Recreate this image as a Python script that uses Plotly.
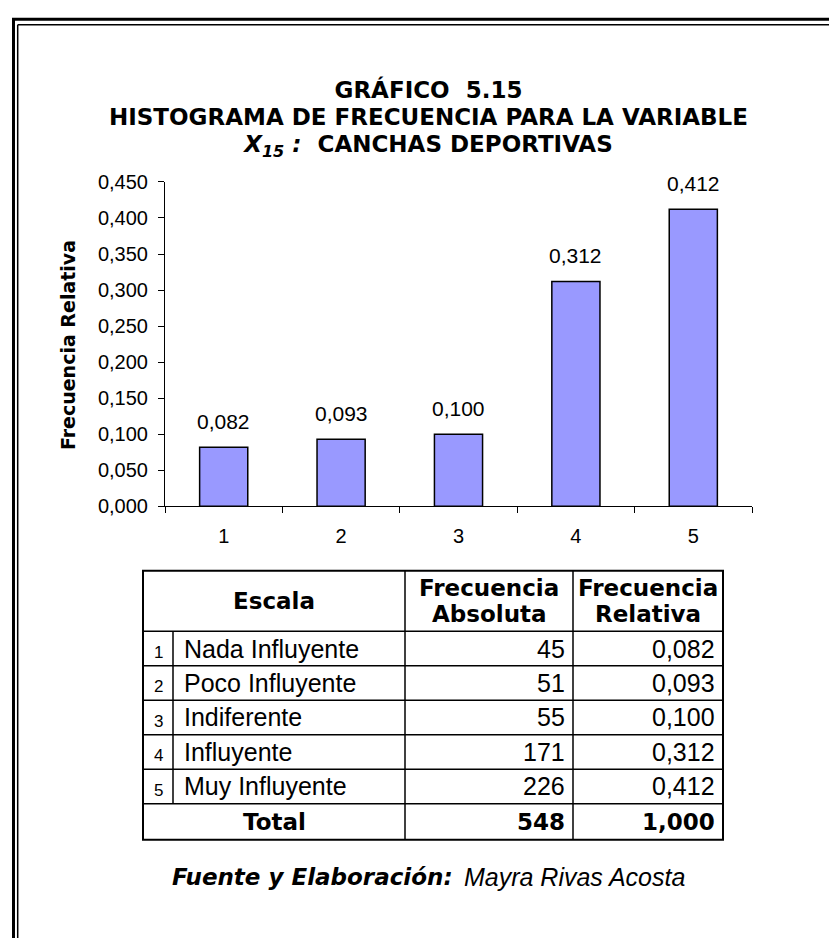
import plotly.graph_objects as go

W, H = 829, 949

# ---- data ----
categories = ["1", "2", "3", "4", "5"]
scale_labels = ["Nada Influyente", "Poco Influyente", "Indiferente", "Influyente", "Muy Influyente"]
freq_abs = [45, 51, 55, 171, 226]
freq_rel = [0.082, 0.093, 0.100, 0.312, 0.412]
total_abs = 548
total_rel = 1.000
y_ticks = [0.0, 0.05, 0.10, 0.15, 0.20, 0.25, 0.30, 0.35, 0.40, 0.45]

title_lines = [
    "GRÁFICO  5.15",
    "HISTOGRAMA DE FRECUENCIA PARA LA VARIABLE",
    "<i>X<sub>15</sub> :</i>\u00a0 CANCHAS DEPORTIVAS",
]
source_bold = "Fuente y Elaboración:"
source_name = " Mayra Rivas Acosta"


def fmt(v):
    return f"{v:.3f}".replace(".", ",")


def px(x):
    return x / W


def py(y):
    return 1 - y / H


FONT = "Liberation Sans, Arial, sans-serif"
BFONT = "DejaVu Sans, Liberation Sans, sans-serif"

fig = go.Figure()
fig.add_trace(go.Bar(
    x=categories, y=freq_rel, width=0.41,
    marker=dict(color="#9999FF", line=dict(color="black", width=1.5)),
    hoverinfo="skip",
))

# plot area geometry (pixels)
X0, X1, Y0, Y1 = 165, 752, 175, 507

fig.update_layout(
    width=W, height=H,
    margin=dict(l=0, r=0, t=0, b=0),
    paper_bgcolor="white", plot_bgcolor="white",
    separators=",.",
    showlegend=False,
    font=dict(family=FONT, color="black"),
    xaxis=dict(
        domain=[px(X0), px(X1)], type="category", range=[-0.5, 4.5],
        showline=True, linecolor="black", linewidth=1,
        ticks="outside", ticklen=6, tickcolor="black", tickwidth=1,
        tickson="boundaries", showgrid=False, zeroline=False,
        tickfont=dict(size=20, family=FONT, color="black"),
        ticklabelstandoff=12,
    ),
    yaxis=dict(
        domain=[py(Y1), py(Y0)], range=[0, 0.45],
        tickvals=y_ticks, tickformat=".3f",
        showline=True, linecolor="black", linewidth=1,
        ticks="outside", ticklen=6, tickcolor="black", tickwidth=1,
        showgrid=False, zeroline=False,
        tickfont=dict(size=20, family=FONT, color="black"),
        ticklabelstandoff=6,
    ),
)

ann = []
# data labels
for i, v in enumerate(freq_rel):
    ann.append(dict(x=i, y=v, xref="x", yref="y", text=fmt(v), showarrow=False,
                    xanchor="center", yanchor="middle", yshift=26,
                    font=dict(size=21, family=FONT, color="black")))

# y axis title
ann.append(dict(x=px(68), y=py(342), xref="paper", yref="paper", text="<b>Frecuencia Relativa</b>",
                textangle=-90, showarrow=False, xanchor="center", yanchor="middle",
                font=dict(size=19, family=BFONT, color="black")))

# title: one text block, line pitch 1.3 * 20.8 px = 27 px, glyphs drawn at 23 px
title_html = "<br>".join(f'<span style="font-size:23px"><b>{t}</b></span>' for t in title_lines)
ann.append(dict(x=px(428), y=py(110), xref="paper", yref="paper", text=title_html,
                showarrow=False, xanchor="center", yanchor="middle", align="center",
                font=dict(size=20.8, family=BFONT, color="black")))

# source line
ann.append(dict(x=px(455), y=py(887), xref="paper", yref="paper",
                text=f"<b><i>{source_bold}</i></b>", showarrow=False,
                xanchor="right", yanchor="middle",
                font=dict(size=23, family=BFONT, color="black")))
ann.append(dict(x=px(455), y=py(887), xref="paper", yref="paper",
                text=f"<i>{source_name}</i>", showarrow=False,
                xanchor="left", yanchor="middle",
                font=dict(size=25, family=FONT, color="black")))

# ---- table ----
TL, TR = 143, 723
C_NUM, C_ABS, C_REL = 173, 405, 573
T_TOP, T_HDR = 573, 635
ROW_H = 35.3
n = len(scale_labels)
row_edges = [T_HDR + ROW_H * i for i in range(n + 1)]
T_BOT = row_edges[-1] + 37

shapes = []


def line(x0, y0, x1, y1, w=1.5):
    shapes.append(dict(type="line", xref="paper", yref="paper",
                       x0=px(x0), y0=py(y0), x1=px(x1), y1=py(y1),
                       line=dict(color="black", width=w)))


# outer box
shapes.append(dict(type="rect", xref="paper", yref="paper",
                   x0=px(TL), y0=py(T_BOT), x1=px(TR), y1=py(T_TOP),
                   line=dict(color="black", width=2)))
for e in row_edges:
    line(TL, e, TR, e)
line(C_ABS, T_TOP, C_ABS, T_BOT)
line(C_REL, T_TOP, C_REL, T_BOT)
line(C_NUM, row_edges[0], C_NUM, row_edges[-1])

# frame border (double line)
line(13.5, 8.5, 13.5, H, 3)
line(12, 8.5, W, 8.5, 3)
line(17.7, 14, 17.7, H, 1.5)
line(17.7, 14, W, 14, 1.5)


def txt(x, y, t, anchor="center", size=25, family=FONT):
    ann.append(dict(x=px(x), y=py(y), xref="paper", yref="paper", text=t, showarrow=False,
                    xanchor=anchor, yanchor="middle",
                    font=dict(size=size, family=family, color="black")))


# header
BS = 23
txt((TL + C_ABS) / 2, (T_TOP + T_HDR) / 2, "<b>Escala</b>", size=BS, family=BFONT)
txt((C_ABS + C_REL) / 2, T_TOP + 18, "<b>Frecuencia</b>", size=BS, family=BFONT)
txt((C_ABS + C_REL) / 2, T_TOP + 44, "<b>Absoluta</b>", size=BS, family=BFONT)
txt((C_REL + TR) / 2, T_TOP + 18, "<b>Frecuencia</b>", size=BS, family=BFONT)
txt((C_REL + TR) / 2, T_TOP + 44, "<b>Relativa</b>", size=BS, family=BFONT)

for i in range(n):
    yc = row_edges[i] + ROW_H / 2
    txt((TL + C_NUM) / 2, yc + 4, categories[i], size=17)
    txt(C_NUM + 9, yc, scale_labels[i], anchor="left")
    txt(C_REL - 6, yc, str(freq_abs[i]), anchor="right")
    txt(TR - 6, yc, fmt(freq_rel[i]), anchor="right")

yt = (row_edges[-1] + T_BOT) / 2
txt((TL + C_ABS) / 2, yt, "<b>Total</b>", size=BS, family=BFONT)
txt(C_REL - 6, yt, f"<b>{total_abs}</b>", anchor="right", size=BS, family=BFONT)
txt(TR - 6, yt, f"<b>{fmt(total_rel)}</b>", anchor="right", size=BS, family=BFONT)

fig.update_layout(annotations=ann, shapes=shapes)
fig.write_html("out.html", config={"displayModeBar": False},
               post_script="document.body.style.margin='0';")
